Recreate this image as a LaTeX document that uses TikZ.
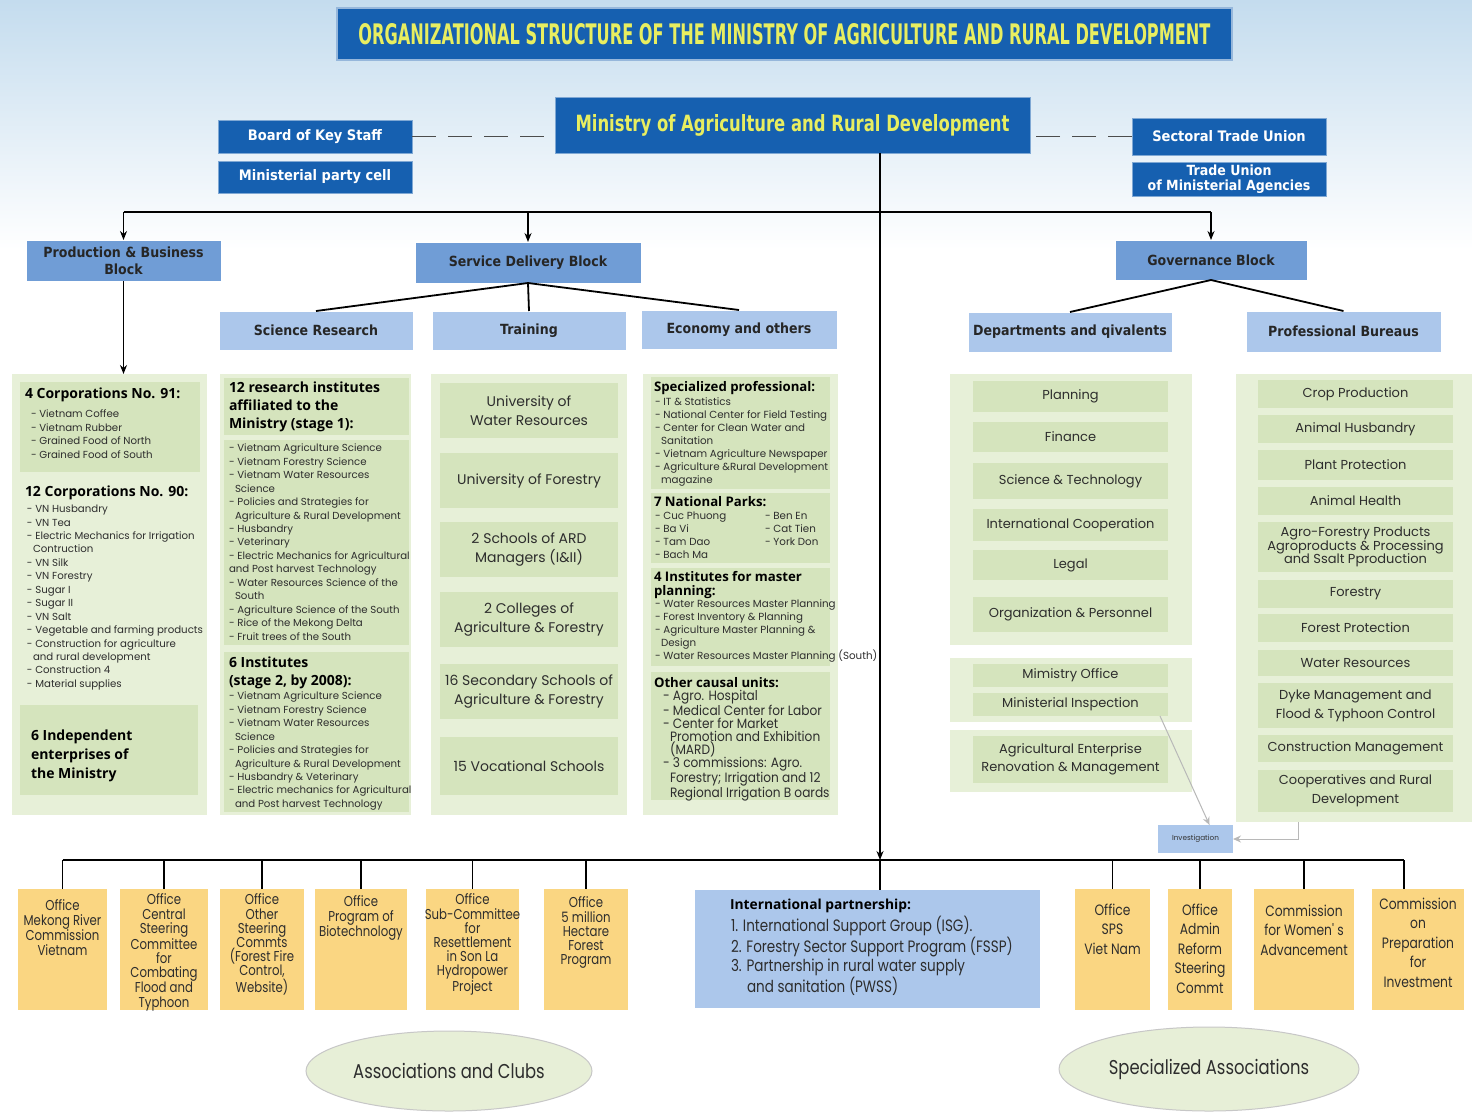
\documentclass[tikz,border=0pt]{standalone}
\usepackage{fontspec}
\usepackage{graphicx}
\usetikzlibrary{shapes.geometric,arrows.meta}
\setmainfont{Poppins}
\newfontfamily\cnd[FakeStretch=0.82]{Poppins}
\newfontfamily\cne[FakeStretch=0.9]{Poppins}
\newfontfamily\dvs{DejaVu Sans}
\newfontfamily\dvcond[FakeStretch=0.9]{DejaVu Sans}
\newfontfamily\hdf{Open Sans}
\newcommand\fs[2]{\fontsize{#1}{#2}\selectfont}
\definecolor{dblue}{RGB}{22,96,176}
\definecolor{ttl}{RGB}{232,238,96}
\definecolor{mblue}{RGB}{112,157,214}
\definecolor{lblue}{RGB}{172,199,235}
\definecolor{gout}{RGB}{231,240,216}
\definecolor{gin}{RGB}{213,228,189}
\definecolor{ylw}{RGB}{250,214,130}
\definecolor{txt}{RGB}{45,45,45}
\definecolor{ell}{RGB}{231,239,215}
\definecolor{sky}{RGB}{196,220,238}
\newcommand\bx[7]{\node[#1, minimum width={(#5)-(#3)}, minimum height={(#6)-(#4)}] (#2) at ({((#3)+(#5))/2},{((#4)+(#6))/2}) {#7};}
\tikzset{
 base/.style={inner sep=0pt, outer sep=0pt},
 dbox/.style={base, fill=dblue, draw=dblue!55!white, line width=1pt, text=white, font=\dvcond\bfseries\fs{14.5}{16}, align=center},
 mbox/.style={base, fill=mblue, draw=white, line width=0.8pt, text=black!85, font=\dvcond\bfseries\fs{14}{17}, align=center},
 lbox/.style={base, fill=lblue, draw=white, line width=0.8pt, text=black!85, font=\dvcond\bfseries\fs{14}{17}, align=center},
 gpanel/.style={base, fill=gout},
 gcell/.style={base, fill=gin, text=txt, font=\fs{13}{19}, align=center},
 ybox/.style={base, fill=ylw},
 ibox/.style={base, fill=lblue},
 otext/.style={base, text=txt, font=\cnd\fs{14.3}{14.2}, align=center, anchor=north},
 rtext/.style={base, text=txt, font=\cnd\fs{15}{19.4}, align=center, anchor=north},
 lst/.style={base, text=txt, font=\fs{10.2}{13.45}, align=left, anchor=north west},
 hd/.style={base, text=black, font=\hdf\bfseries\fs{14}{18}, align=left, anchor=north west},
 conn/.style={draw=black, line width=1.4pt},
 arr/.style={-{Stealth[length=9pt,width=7pt]}},
 garr/.style={draw=black!28, line width=1pt, -{Stealth[length=8pt,width=7pt]}},
 ellnode/.style={ellipse, fill=ell, draw=black!22, line width=1pt, inner sep=0pt, text=txt, font=\cnd\fs{20}{22}},
}
\begin{document}
\begin{tikzpicture}[x=1pt,y=-1pt]
\useasboundingbox (0,0) rectangle (1472,1112);
\fill[white] (0,0) rectangle (1472,1112);
\shade[top color=sky, bottom color=white] (0,0) rectangle (1472,250);

% --- top ---
\bx{dbox,draw=dblue!45!white,line width=1.5pt}{title}{337}{8}{1232}{60}{\textcolor{ttl}{\resizebox{852pt}{21pt}{\dvs\bfseries ORGANIZATIONAL STRUCTURE OF THE MINISTRY OF AGRICULTURE AND RURAL DEVELOPMENT}}}
\bx{dbox}{min}{555}{97}{1030}{153}{\textcolor{ttl}{\resizebox{434pt}{17pt}{\dvs\bfseries Ministry of Agriculture and Rural Development}}}
\bx{dbox}{bks}{218}{120}{412}{153}{Board of Key Staff}
\bx{dbox}{mpc}{218}{161}{412}{193}{Ministerial party cell}
\bx{dbox}{stu}{1132}{118}{1326}{155}{Sectoral Trade Union}
\bx{dbox,font=\dvcond\bfseries\fs{14}{15.5}}{tum}{1132}{162}{1326}{196}{Trade Union\\of Ministerial Agencies}

\draw[draw=black!70, line width=1.3pt, dash pattern=on 24pt off 12pt] (bks.east) -- (bks.east -| min.west);
\draw[draw=black!70, line width=1.3pt, dash pattern=on 24pt off 12pt] (stu.west) -- (stu.west -| min.east);

\coordinate (vx) at (880,0);
\coordinate (tb) at (0,212);
\coordinate (bus) at (0,860);

% --- blocks ---
\bx{mbox}{pbb}{26}{240}{221}{281}{Production \& Business\\Block}
\bx{mbox}{sdb}{415}{242}{641}{283}{Service Delivery Block}
\bx{mbox}{gov}{1115}{240}{1307}{280}{Governance Block}
\bx{lbox}{sr}{219}{311}{413}{350}{Science Research}
\bx{lbox}{tr}{432}{311}{626}{350}{Training}
\bx{lbox}{eco}{641}{310}{837}{349}{Economy and others}
\bx{lbox}{dep}{968}{312}{1172}{352}{Departments and qivalents}
\bx{lbox}{pro}{1246}{311}{1441}{352}{Professional Bureaus}

% --- green panels ---
\bx{gpanel}{pp}{12}{374}{207}{815}{}
\bx{gcell}{pc1}{20}{382}{200}{472}{}
\bx{gcell}{pc3}{20}{705}{198}{795}{}
\node[hd] (pch1) at (25,388) {4 Corporations No. 91:};
\node[lst] (pcl1) at (31,410) {- Vietnam Coffee\\- Vietnam Rubber\\- Grained Food of North\\- Grained Food of South};
\node[hd] (pch2) at (25,486) {12 Corporations No. 90:};
\node[lst] (pcl2) at (27,505) {- VN Husbandry\\- VN Tea\\- Electric Mechanics for Irrigation\\\hspace*{6pt}Contruction\\- VN Silk\\- VN Forestry\\- Sugar I\\- Sugar II\\- VN Salt\\- Vegetable and farming products\\- Construction for agriculture\\\hspace*{6pt}and rural development\\- Construction 4\\- Material supplies};
\node[hd,font=\hdf\bfseries\fs{14}{19}] (pch3) at (31,730) {6 Independent\\enterprises of\\the Ministry};

\bx{gpanel}{sp}{220}{374}{411}{815}{}
\bx{gcell}{sc1}{224}{378}{409}{435}{}
\bx{gcell}{sc2}{224}{440}{409}{645}{}
\bx{gcell}{sc3}{224}{652}{409}{812}{}
\node[hd] (sch1) at (229,382) {12 research institutes\\affiliated to the\\Ministry (stage 1):};
\node[lst] (scl1) at (229,444) {- Vietnam Agriculture Science\\- Vietnam Forestry Science\\- Vietnam Water Resources\\\hspace*{6pt}Science\\- Policies and Strategies for\\\hspace*{6pt}Agriculture \& Rural Development\\- Husbandry\\- Veterinary\\- Electric Mechanics for Agricultural\\and Post harvest Technology\\- Water Resources Science of the\\\hspace*{6pt}South\\- Agriculture Science of the South\\- Rice of the Mekong Delta\\- Fruit trees of the South};
\node[hd] (sch2) at (229,657) {6 Institutes\\(stage 2, by 2008):};
\node[lst] (scl2) at (229,692) {- Vietnam Agriculture Science\\- Vietnam Forestry Science\\- Vietnam Water Resources\\\hspace*{6pt}Science\\- Policies and Strategies for\\\hspace*{6pt}Agriculture \& Rural Development\\- Husbandry \& Veterinary\\- Electric mechanics for Agricultural\\\hspace*{6pt}and Post harvest Technology};

\bx{gpanel}{tp}{431}{374}{627}{815}{}
\bx{gcell,font=\fs{14}{19}}{t1}{440}{383}{618}{438}{University of\\Water Resources}
\bx{gcell,font=\fs{14}{19}}{t2}{440}{453}{618}{508}{University of Forestry}
\bx{gcell,font=\fs{14}{19}}{t3}{440}{522}{618}{577}{2 Schools of ARD\\Managers (I\&II)}
\bx{gcell,font=\fs{14}{19}}{t4}{440}{592}{618}{647}{2 Colleges of\\Agriculture \& Forestry}
\bx{gcell,font=\fs{14}{19}}{t5}{440}{664}{618}{719}{16 Secondary Schools of\\Agriculture \& Forestry}
\bx{gcell,font=\fs{14}{19}}{t6}{440}{737}{618}{795}{15 Vocational Schools}

\bx{gpanel}{ep}{643}{374}{838}{815}{}
\bx{gcell}{e1}{651}{377}{830}{489}{}
\bx{gcell}{e2}{651}{493}{830}{563}{}
\bx{gcell}{e3}{651}{568}{830}{666}{}
\bx{gcell}{e4}{651}{672}{830}{800}{}
\node[hd,font=\hdf\bfseries\fs{13.2}{14}] (eh1) at (654,381) {Specialized professional:};
\node[lst,font=\fs{10.3}{13}] (el1) at (655,398) {- IT \& Statistics\\- National Center for Field Testing\\- Center for Clean Water and\\\hspace*{6pt}Sanitation\\- Vietnam Agriculture Newspaper\\- Agriculture \&Rural Development\\\hspace*{6pt}magazine};
\node[hd,font=\hdf\bfseries\fs{13.2}{14}] (eh2) at (654,496) {7 National Parks:};
\node[lst,font=\fs{10.3}{13}] (el2a) at (655,512) {- Cuc Phuong\\- Ba Vi\\- Tam Dao\\- Bach Ma};
\node[lst,font=\fs{10.3}{13}] (el2b) at (765,512) {- Ben En\\- Cat Tien\\- York Don};
\node[hd,font=\hdf\bfseries\fs{13.2}{14}] (eh3) at (654,571) {4 Institutes for master\\planning:};
\node[lst,font=\fs{10.3}{13}] (el3) at (655,600) {- Water Resources Master Planning\\- Forest Inventory \& Planning\\- Agriculture Master Planning \&\\\hspace*{6pt}Design\\- Water Resources Master Planning (South)};
\node[hd,font=\hdf\bfseries\fs{13.2}{14}] (eh4) at (654,677) {Other causal units:};
\node[lst,font=\cne\fs{13.5}{13}] (el4) at (663,690) {- Agro. Hospital\\- Medical Center for Labor\\- Center for Market\\\hspace*{7pt}Promotion and Exhibition\\\hspace*{7pt}(MARD)\\- 3 commissions: Agro.\\\hspace*{7pt}Forestry; Irrigation and 12\\\hspace*{7pt}Regional Irrigation B oards};

% --- governance panels ---
\bx{gpanel}{dp}{950}{374}{1192}{645}{}
\bx{gcell}{d1}{973}{381}{1168}{412}{Planning}
\bx{gcell}{d2}{973}{422}{1168}{452}{Finance}
\bx{gcell}{d3}{973}{463}{1168}{499}{Science \& Technology}
\bx{gcell}{d4}{973}{509}{1168}{541}{International Cooperation}
\bx{gcell}{d5}{973}{550}{1168}{580}{Legal}
\bx{gcell}{d6}{973}{597}{1168}{632}{Organization \& Personnel}
\bx{gpanel}{dp2}{950}{658}{1192}{722}{}
\bx{gcell}{mo}{973}{664}{1168}{687}{Mimistry Office}
\bx{gcell}{mi}{973}{693}{1168}{716}{Ministerial Inspection}
\bx{gpanel}{dp3}{950}{730}{1192}{792}{}
\bx{gcell,font=\fs{13}{18}}{aer}{973}{736}{1168}{783}{Agricultural Enterprise\\Renovation \& Management}

\bx{gpanel}{bp}{1236}{374}{1472}{822}{}
\bx{gcell}{b1}{1258}{380}{1453}{408}{Crop Production}
\bx{gcell}{b2}{1258}{415}{1453}{443}{Animal Husbandry}
\bx{gcell}{b3}{1258}{450}{1453}{480}{Plant Protection}
\bx{gcell}{b4}{1258}{487}{1453}{515}{Animal Health}
\bx{gcell,font=\fs{13}{13.5}}{b5}{1258}{522}{1453}{572}{Agro-Forestry Products\\Agroproducts \& Processing\\and Ssalt Pproduction}
\bx{gcell}{b6}{1258}{580}{1453}{608}{Forestry}
\bx{gcell}{b7}{1258}{614}{1453}{642}{Forest Protection}
\bx{gcell}{b8}{1258}{650}{1453}{676}{Water Resources}
\bx{gcell}{b9}{1258}{683}{1453}{728}{Dyke Management and\\Flood \& Typhoon Control}
\bx{gcell}{b10}{1258}{735}{1453}{762}{Construction Management}
\bx{gcell}{b11}{1258}{770}{1453}{812}{Cooperatives and Rural\\Development}

\bx{ibox,text=black!80,font=\fs{7.3}{9}}{inv}{1158}{825}{1233}{853}{Investigation}
\coordinate (c1) at (1298,822);
\draw[garr] ([xshift=-8pt]mi.south east) -- ([xshift=14pt]inv.north);
\draw[garr] (c1) |- (inv.east);

% --- bottom boxes ---
\bx{ybox}{o1}{18}{889}{107}{1010}{}
\bx{ybox}{o2}{120}{889}{208}{1010}{}
\bx{ybox}{o3}{220}{889}{304}{1010}{}
\bx{ybox}{o4}{315}{889}{407}{1010}{}
\bx{ybox}{o5}{426}{889}{519}{1010}{}
\bx{ybox}{o6}{544}{889}{628}{1010}{}
\bx{ibox}{ip}{695}{890}{1040}{1008}{}
\bx{ybox}{o7}{1075}{889}{1150}{1010}{}
\bx{ybox}{o8}{1168}{889}{1232}{1010}{}
\bx{ybox}{o9}{1254}{889}{1354}{1010}{}
\bx{ybox}{o10}{1372}{889}{1464}{1010}{}

\node[otext] (ot1) at (o1.north |- 0,900) {Office\\Mekong River\\Commission\\Vietnam};
\node[otext] (ot2) at (o2.north |- 0,894) {Office\\Central\\Steering\\Committee\\for\\Combating\\Flood and\\Typhoon};
\node[otext] (ot3) at (o3.north |- 0,894) {Office\\Other\\Steering\\Commts\\(Forest Fire\\Control,\\Website)};
\node[otext] (ot4) at (o4.north |- 0,896) {Office\\Program of\\Biotechnology};
\node[otext] (ot5) at (o5.north |- 0,894) {Office\\Sub-Committee\\for\\Resettlement\\in Son La\\Hydropower\\Project};
\node[otext] (ot6) at (o6.north |- 0,897) {Office\\5 million\\Hectare\\Forest\\Program};
\node[rtext] (ot7) at (o7.north |- 0,904) {Office\\SPS\\Viet Nam};
\node[rtext] (ot8) at (o8.north |- 0,904) {Office\\Admin\\Reform\\Steering\\Commt};
\node[rtext] (ot9) at (o9.north |- 0,905) {Commission\\for Women' s\\Advancement};
\node[rtext] (ot10) at (o10.north |- 0,898) {Commission\\on\\Preparation\\for\\Investment};
\node[hd,font=\hdf\bfseries\fs{13.8}{14}] (iph) at (730,899) {International partnership:};
\node[lst,font=\cnd\fs{16.5}{19.5}] (ipl) at (731,916) {1. International Support Group (ISG).\\2. Forestry Sector Support Program (FSSP)\\3. Partnership in rural water supply\\\hspace*{16pt}and sanitation (PWSS)};

\coordinate (px) at (1404,0);
\draw[conn] (bus -| o1.north) -- (bus -| px);
\draw[conn,arr] (min.south -| vx) -- (bus -| vx);
\draw[conn] (bus -| vx) -- (ip.north -| vx);
\foreach \o in {o1,o2,o3,o4,o5,o6,o7,o8,o9} {\draw[conn] (bus -| \o.north) -- (\o.north);}
\draw[conn] (bus -| px) -- (px |- o10.north);

% --- top connectors ---
\draw[conn,line width=2pt] (tb -| pbb.north) -- (tb -| gov.north);
\draw[conn,arr] (tb -| pbb.north) -- (pbb.north);
\draw[conn,arr] (tb -| sdb.north) -- (sdb.north);
\draw[conn,arr] (tb -| gov.north) -- (gov.north);
\draw[conn,arr] (pbb.south) -- (pbb.south |- pp.north);
\draw[conn,line width=1.8pt] (sdb.south) -- (sr.north);
\draw[conn,line width=1.8pt] (sdb.south) -- (tr.north);
\draw[conn,line width=1.8pt] (sdb.south) -- (eco.north);
\draw[conn,line width=1.8pt] (gov.south) -- (dep.north);
\draw[conn,line width=1.8pt] (gov.south) -- (pro.north);

% --- ellipses ---
\node[ellnode, minimum width=286pt, minimum height=80pt] (ac) at (449,1071) {Associations and Clubs};
\node[ellnode, minimum width=300pt, minimum height=84pt] (sa) at (1209,1069) {Specialized Associations};
\end{tikzpicture}
\end{document}
